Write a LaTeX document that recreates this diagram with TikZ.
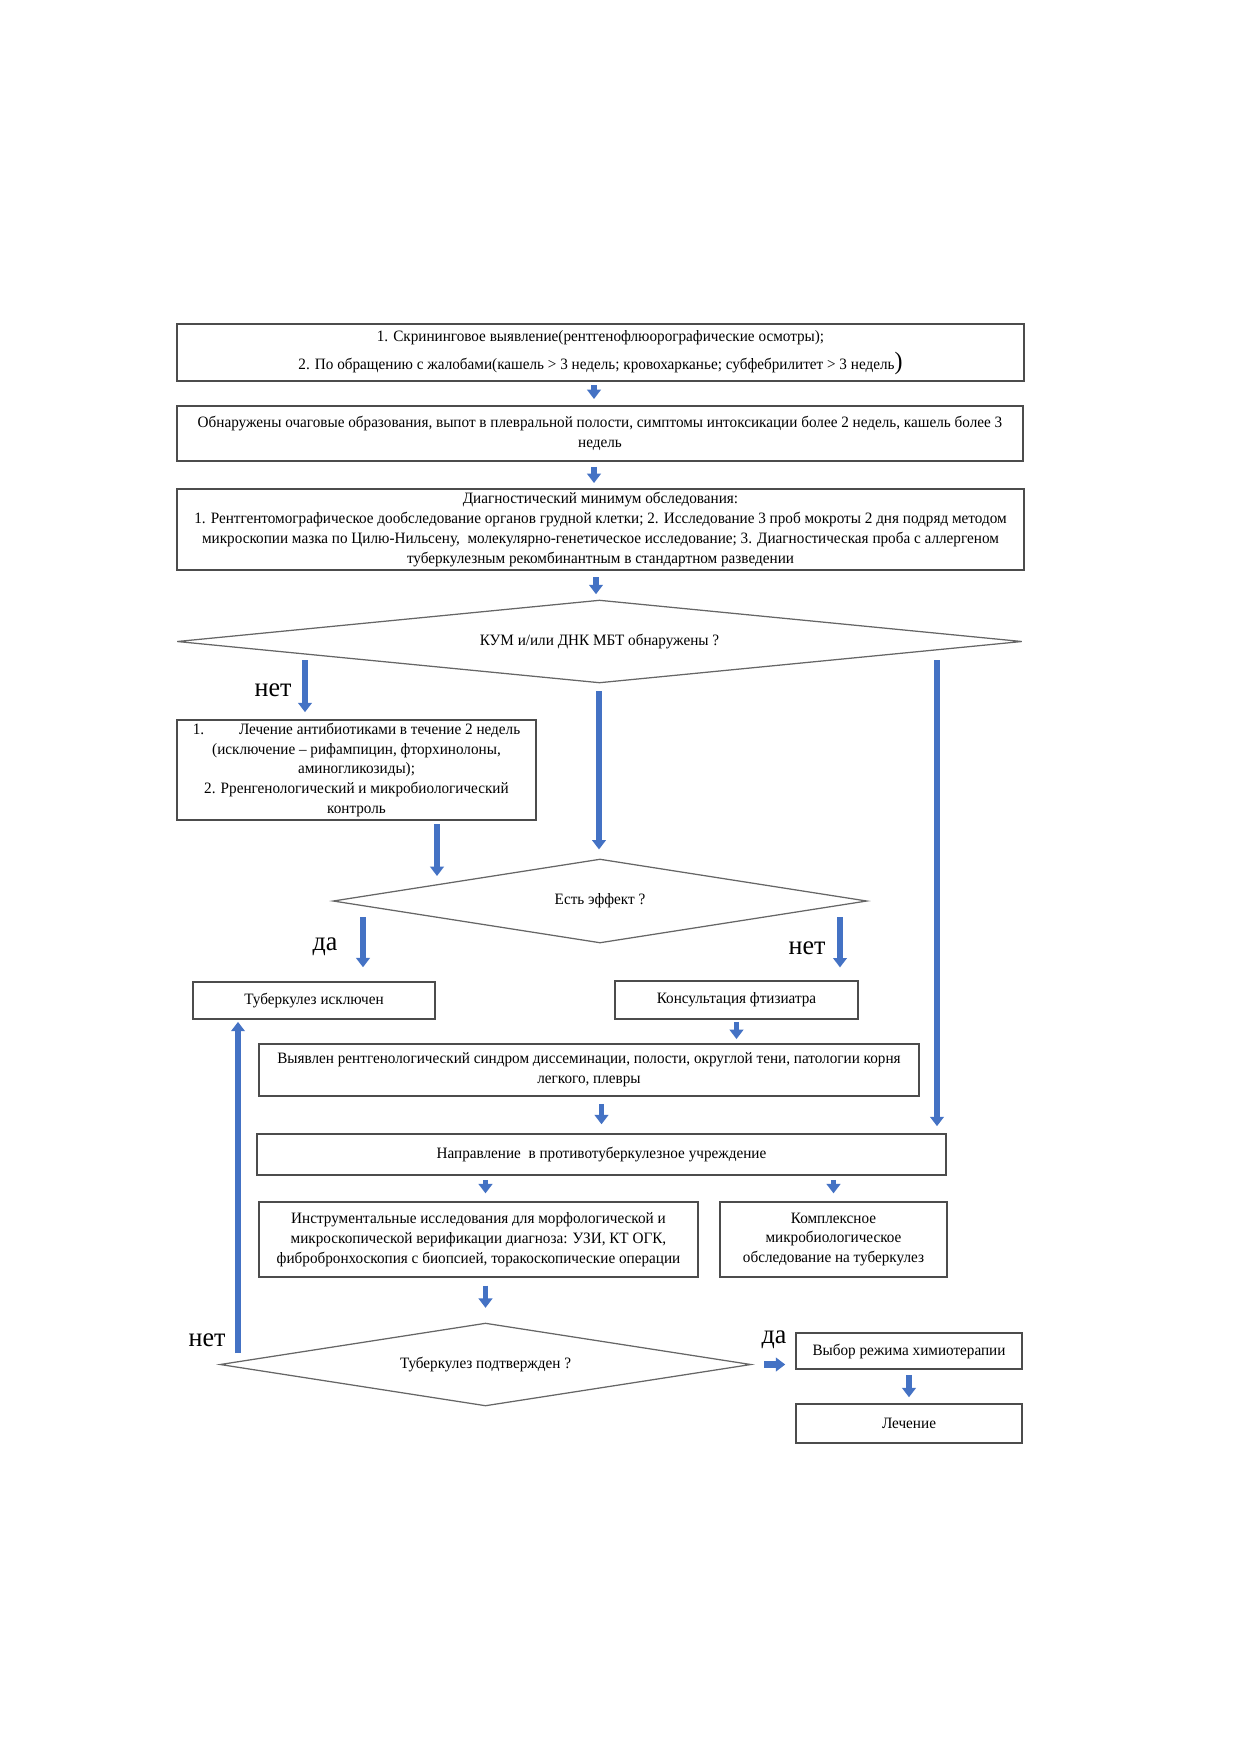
\documentclass[tikz,border=0pt]{standalone}
\usepackage{fontspec}
\setmainfont{Liberation Serif}[FakeStretch=0.96]
\usetikzlibrary{shapes.geometric, arrows.meta}
\definecolor{arrblue}{HTML}{4472C4}
\tikzstyle{process} = [rectangle, draw=black!70, line width=0.7pt, fill=white, inner sep=1pt, align=center, font=\fontsize{7.6}{9.5}\selectfont]
\tikzstyle{decision} = [diamond, aspect=8, inner sep=0pt, draw=black!60, line width=0.6pt, align=center, font=\fontsize{7.6}{9.5}\selectfont]
\tikzstyle{arrow} = [line width=2.6pt, arrblue, -{Triangle[width=6.5pt,length=4.5pt]}]
\tikzstyle{answer} = [font=\fontsize{13}{15}\selectfont]

\begin{document}
\begin{tikzpicture}[x=0.48pt, y=-0.48pt]
\useasboundingbox (0,0) rectangle (1239,1754);
\node (scr) [process, minimum width=406.6pt, minimum height=27.4pt] at (600.5,352.5) {1. Скрининговое выявление(рентгенофлюорографические осмотры);\\[2.5pt] 2. По обращению с жалобами(кашель > 3 недель; кровохарканье; субфебрилитет > 3 недель\large)};
\node (found) [process, minimum width=406pt, minimum height=26.4pt] at (600,433.5) {Обнаружены очаговые образования, выпот в плевральной полости, симптомы интоксикации более 2 недель, кашель более 3\\ недель};
\node (dmin) [process, minimum width=406.6pt, minimum height=38.9pt] at (600.5,529.5) {Диагностический минимум обследования:\\ 1. Рентгентомографическое дообследование органов грудной клетки; 2. Исследование 3 проб мокроты 2 дня подряд методом\\ микроскопии мазка по Цилю-Нильсену,\ \ молекулярно-генетическое исследование; 3. Диагностическая проба с аллергеном\\ туберкулезным рекомбинантным в стандартном разведении};
\node (kum) [decision, minimum width=405.6pt, minimum height=39.8pt] at (599.5,641.5) {КУМ и/или ДНК МБТ обнаружены ?};
\node (antib) [process, minimum width=172.3pt, minimum height=48pt] at (356.5,770) {1.\hspace{2.2em}Лечение антибиотиками в течение 2 недель\\ (исключение – рифампицин, фторхинолоны,\\ аминогликозиды);\\ 2. Рренгенологический и микробиологический\\ контроль};
\node (eff) [decision, minimum width=256.3pt, minimum height=40.3pt] at (600,901) {Есть эффект ?};
\node (excl) [process, minimum width=116pt, minimum height=17.8pt] at (314,1000.5) {Туберкулез исключен};
\node (cons) [process, minimum width=116.6pt, minimum height=18.2pt] at (736.5,1000) {Консультация фтизиатра};
\node (synd) [process, minimum width=316.8pt, minimum height=25pt] at (589,1070) {Выявлен рентгенологический синдром диссеминации, полости, округлой тени, патологии корня\\ легкого, плевры};
\node (napr) [process, minimum width=330.7pt, minimum height=19.7pt] at (601.5,1154.5) {Направление\ \ в противотуберкулезное учреждение};
\node (instr) [process, minimum width=210.7pt, minimum height=36pt] at (478.5,1239.5) {Инструментальные исследования для морфологической и\\ микроскопической верификации диагноза: УЗИ, КТ ОГК,\\ фибробронхоскопия с биопсией, торакоскопические операции};
\node (compl) [process, minimum width=109pt, minimum height=36pt] at (833.5,1239.5) {Комплексное\\ микробиологическое\\ обследование на туберкулез};
\node (conf) [decision, minimum width=254.9pt, minimum height=39.8pt] at (485.5,1364.5) {Туберкулез подтвержден ?};
\node (chemo) [process, minimum width=108.5pt, minimum height=17.3pt] at (909,1351) {Выбор режима химиотерапии};
\node (treat) [process, minimum width=108.5pt, minimum height=18.7pt] at (909,1423.5) {Лечение};
% free ends of the side arrows
\coordinate (no1) at (305,660);
\coordinate (mid1) at (599,691);
\coordinate (right1) at (937,660);
\coordinate (b4out) at (437,824);
\coordinate (b4in) at (437,876);
\coordinate (yes2) at (363,917);
\coordinate (no2) at (840,917);
\coordinate (no3) at (238,1353);
\draw [arrow, shorten <=1.5pt, shorten >=3pt] (scr.south -| 594,0) -- (found.north -| 594,0);
\draw [arrow, shorten <=2.5pt, shorten >=2.5pt] (found.south -| 594,0) -- (dmin.north -| 594,0);
\draw [arrow, shorten <=3pt, shorten >=2.5pt] (dmin.south -| 596,0) -- (kum.north -| 596,0);
\draw [arrow, shorten >=3.4pt] (no1) -- (no1 |- antib.north);
\node [answer] at (273,690) {нет};
\draw [arrow, shorten >=4.3pt] (mid1) -- (mid1 |- eff.north);
\draw [arrow, shorten >=3.4pt] (right1) -- (right1 |- napr.north);
\draw [arrow] (b4out) -- (b4in);
\draw [arrow, shorten >=6.7pt] (yes2) -- (yes2 |- excl.north);
\node [answer] at (325,947) {да};
\draw [arrow, shorten >=6.2pt] (no2) -- (no2 |- cons.north);
\node [answer] at (807,948) {нет};
\draw [arrow, shorten <=1pt, shorten >=2pt] (cons.south) -- (cons.south |- synd.north);
\draw [arrow, shorten <=3.4pt, shorten >=4.3pt] (synd.south -| napr.north) -- (napr.north);
\draw [arrow, shorten <=2pt, shorten >=3.8pt] (napr.south -| conf.north) -- (instr.north -| conf.north);
\draw [arrow, shorten <=2pt, shorten >=3.8pt] (napr.south -| compl.north) -- (compl.north);
\draw [arrow, shorten <=3.8pt, shorten >=7pt] (instr.south -| conf.north) -- (conf.north);
\draw [arrow, shorten >=1pt] (no3) -- (no3 |- excl.south);
\node [answer] at (207,1340) {нет};
\draw [arrow, line width=3.4pt, shorten <=6pt, shorten >=4.8pt] (conf.east) -- (conf.east -| chemo.west);
\node [answer] at (774,1340) {да};
\draw [arrow, shorten <=2.4pt, shorten >=2.9pt] (chemo) -- (treat);
\end{tikzpicture}
\end{document}
